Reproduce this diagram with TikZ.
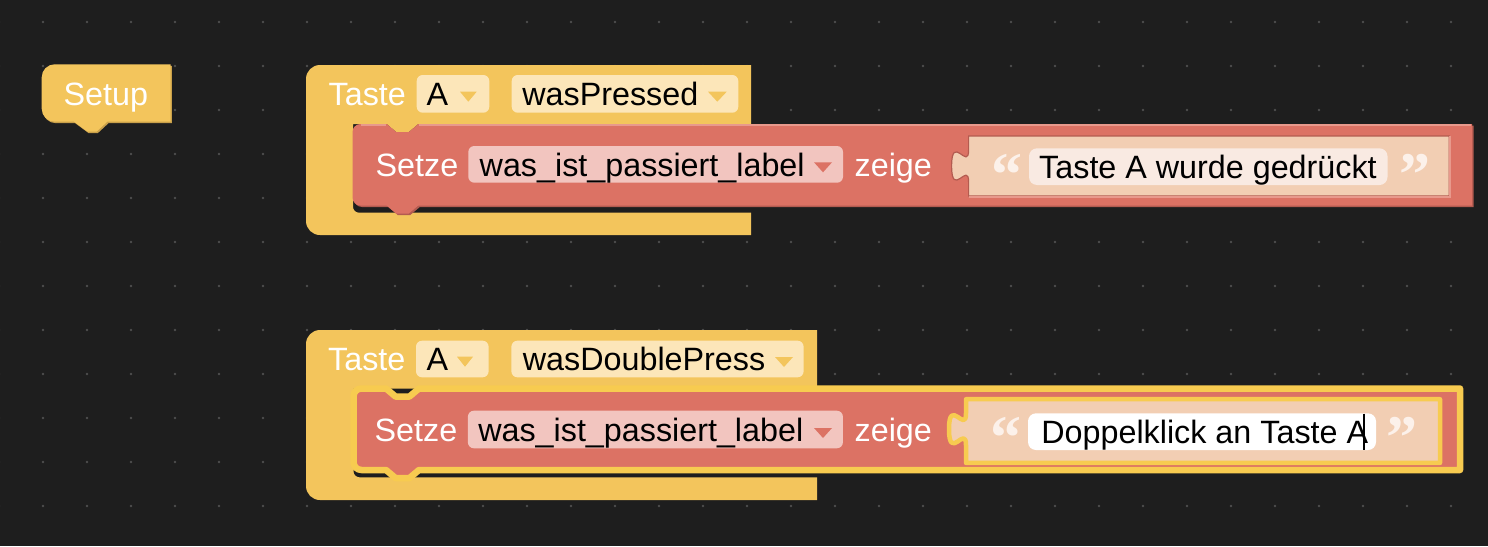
\documentclass[tikz,border=0pt]{standalone}
\usepackage{fontspec}
\setmainfont{Liberation Sans}
\newfontfamily\qfont{Liberation Serif}
\definecolor{bg}{HTML}{1E1E1E}
\definecolor{dotc}{HTML}{4E4E4E}
\definecolor{yel}{HTML}{F3C55C}
\definecolor{yeldark}{HTML}{C9A04A}
\definecolor{yelfld}{HTML}{FCE6B9}
\definecolor{hil}{HTML}{F7CB50}
\definecolor{redb}{HTML}{DC7264}
\definecolor{reddark}{HTML}{B35B50}
\definecolor{redlight}{HTML}{E8998C}
\definecolor{redfld}{HTML}{F2C5BF}
\definecolor{peach}{HTML}{F2CEB3}
\definecolor{txtfld}{HTML}{F9EAE2}
\definecolor{quotec}{HTML}{FCF1EA}
\begin{document}
\begin{tikzpicture}[x=1pt,y=-1pt,
  lbl/.style={text=white,anchor=base west,inner sep=0pt,font=\fontsize{32.3}{36}\selectfont},
  val/.style={text=black,anchor=base west,inner sep=0pt,font=\fontsize{32.3}{36}\selectfont},
  qmark/.style={text=quotec,anchor=base west,inner sep=0pt,font=\qfont\bfseries\fontsize{62}{66}\selectfont},
  yfield/.style={fill=yelfld,rounded corners=6pt},
  rfield/.style={fill=redfld,rounded corners=6pt},
  hilite/.style={draw=hil,line join=round}]
\useasboundingbox (0,0) rectangle (1488,546);
\fill[bg] (0,0) rectangle (1488,546);
% grid dots
\foreach \i in {0,...,34}{\foreach \j in {0,...,11}{
  \fill[dotc] ({-1+44*\i},{22+44*\j}) circle[radius=1.3];}}

% ---------------- Setup block
\fill[yeldark,shift={(1.2,1.5)}] (54.7,64.3) -- (170.7,64.3) -- (170.7,121.7) -- (107.3,121.7) -- (96.7,131.5) -- (87.3,131.5) -- (74,121.7) -- (54.7,121.7) arc[start angle=90,end angle=180,radius=13] -- (41.7,77.3) arc[start angle=180,end angle=270,radius=13] -- cycle;
\fill[yel] (54.7,64.3) -- (170.7,64.3) -- (170.7,121.7) -- (107.3,121.7) -- (96.7,131.5) -- (87.3,131.5) -- (74,121.7) -- (54.7,121.7) arc[start angle=90,end angle=180,radius=13] -- (41.7,77.3) arc[start angle=180,end angle=270,radius=13] -- cycle;
\node[lbl] (setup) at (63.5,105) {Setup};

% ---------------- Top event block
\fill[yel] (751,65) -- (320,65) arc[start angle=270,end angle=180,radius=14] -- (306,221) arc[start angle=180,end angle=90,radius=14] -- (751,235) -- (751,212.7) -- (359,212.7) arc[start angle=90,end angle=180,radius=6] -- (353,124) -- (386.7,124) -- (396.2,132) -- (408.8,132) -- (418.3,124) -- (751,124) -- cycle;
\node[lbl] (taste1) at (328.5,105.9) {Taste};
\fill[yfield] (416.7,75) rectangle (489.3,112.7);
\node[val] (a1) at (426.5,105.9) {A};
\fill[yel] (460,91.7) -- (476.7,91.7) -- (468.3,101.7) -- cycle;
\fill[yfield] (511.7,75) rectangle (738.3,112.7);
\node[val] (ev1) at (522.2,105.9) {wasPressed};
\fill[yel] (708,91.7) -- (726.7,91.7) -- (717.3,101.7) -- cycle;

% red statement (top)
\fill[reddark,shift={(1.5,1.5)}] (360.5,124) -- (386.7,124) -- (396.2,132) -- (408.8,132) -- (418.3,124) -- (1472,124) -- (1472,205.5) -- (418.3,205.5) -- (408.8,213.5) -- (396.2,213.5) -- (386.7,205.5) -- (360.5,205.5) arc[start angle=90,end angle=180,radius=8] -- (352.5,132) arc[start angle=180,end angle=270,radius=8] -- cycle;
\fill[redb] (360.5,124) -- (386.7,124) -- (396.2,132) -- (408.8,132) -- (418.3,124) -- (1472,124) -- (1472,205.5) -- (418.3,205.5) -- (408.8,213.5) -- (396.2,213.5) -- (386.7,205.5) -- (360.5,205.5) arc[start angle=90,end angle=180,radius=8] -- (352.5,132) arc[start angle=180,end angle=270,radius=8] -- cycle;
\draw[redlight,line width=1.5] (361,124.8) -- (386,124.8) (419,124.8) -- (1471,124.8);
\node[lbl] (setze1) at (375.5,176.2) {Setze};
\fill[rfield] (468.3,146) rectangle (843,182.7);
\node[val] (var1) at (479.5,176.2) {was\_ist\_passiert\_label};
\fill[redb] (814,162.3) -- (832,162.3) -- (823,172.3) -- cycle;
\node[lbl] (zeige1) at (854.5,176.2) {zeige};
% string block (top)
\path[fill=peach,draw=reddark,line width=1.2] (968.6,136) -- (1449.3,136) -- (1449.3,196) -- (968.6,196) -- (968.6,182) .. controls (968.6,160.7) and (951.6,199.1) .. (951.6,166) .. controls (951.6,132.9) and (968.6,171.3) .. (968.6,150) -- cycle;
\draw[redlight,line width=2] (1450.3,136) -- (1450.3,197) -- (969,197);
\fill[txtfld,rounded corners=8pt] (1029,148.3) rectangle (1387.5,185);
\node[qmark] (oq1) at (991,195) {“};
\node[val] (s1) at (1039,178.2) {Taste A wurde gedrückt};
\node[qmark] (cq1) at (1399,195) {”};

% ---------------- Bottom event block
\fill[yel] (817,330) -- (320,330) arc[start angle=270,end angle=180,radius=14] -- (306,486) arc[start angle=180,end angle=90,radius=14] -- (817,500) -- (817,477.3) -- (359.5,477.3) arc[start angle=90,end angle=180,radius=6] -- (353.5,388.5) -- (817,388.5) -- cycle;
\node[lbl] (taste2) at (328,370.7) {Taste};
\fill[yfield] (416,340.7) rectangle (488.6,377.3);
\node[val] (a2) at (426.5,370.7) {A};
\fill[yel] (457,356.7) -- (473,356.7) -- (465,366.7) -- cycle;
\fill[yfield] (511.4,340.7) rectangle (803.6,377.3);
\node[val] (ev2) at (522.7,370.7) {wasDoublePress};
\fill[yel] (775,357) -- (793,357) -- (784,367) -- cycle;

% red statement (bottom, highlighted)
\path[fill=redb,hilite,line width=6.5] (361.5,388.5) -- (386,388.5) -- (395.5,396.5) -- (409.5,396.5) -- (419,388.5) -- (1460,388.5) -- (1460,470) -- (419,470) -- (409.5,478) -- (395.5,478) -- (386,470) -- (361.5,470) arc[start angle=90,end angle=180,radius=8] -- (353.5,396.5) arc[start angle=180,end angle=270,radius=8] -- cycle;
\node[lbl] (setze2) at (374.5,441) {Setze};
\fill[rfield] (467.9,410.7) rectangle (842.9,448.3);
\node[val] (var2) at (478.1,441) {was\_ist\_passiert\_label};
\fill[redb] (814,428) -- (832,428) -- (823,438) -- cycle;
\node[lbl] (zeige2) at (854.5,441) {zeige};
% string block (bottom, highlighted)
\path[fill=peach,hilite,line width=4.5] (966,399.2) -- (1440,399.2) -- (1440,462.9) -- (966,462.9) -- (966,445.2) .. controls (966,423.9) and (949,462.3) .. (949,429.2) .. controls (949,396.1) and (966,434.5) .. (966,413.2) -- cycle;
\fill[white,rounded corners=8pt] (1028,413.3) rectangle (1376,450);
\node[qmark] (oq2) at (990,458) {“};
\node[val] (s2) at (1041.2,443.2) {Doppelklick an Taste A};
\node[qmark] (cq2) at (1386,458) {”};
\draw[black,line width=2] (1364,413.5) -- (1364,450);
\end{tikzpicture}
\end{document}
